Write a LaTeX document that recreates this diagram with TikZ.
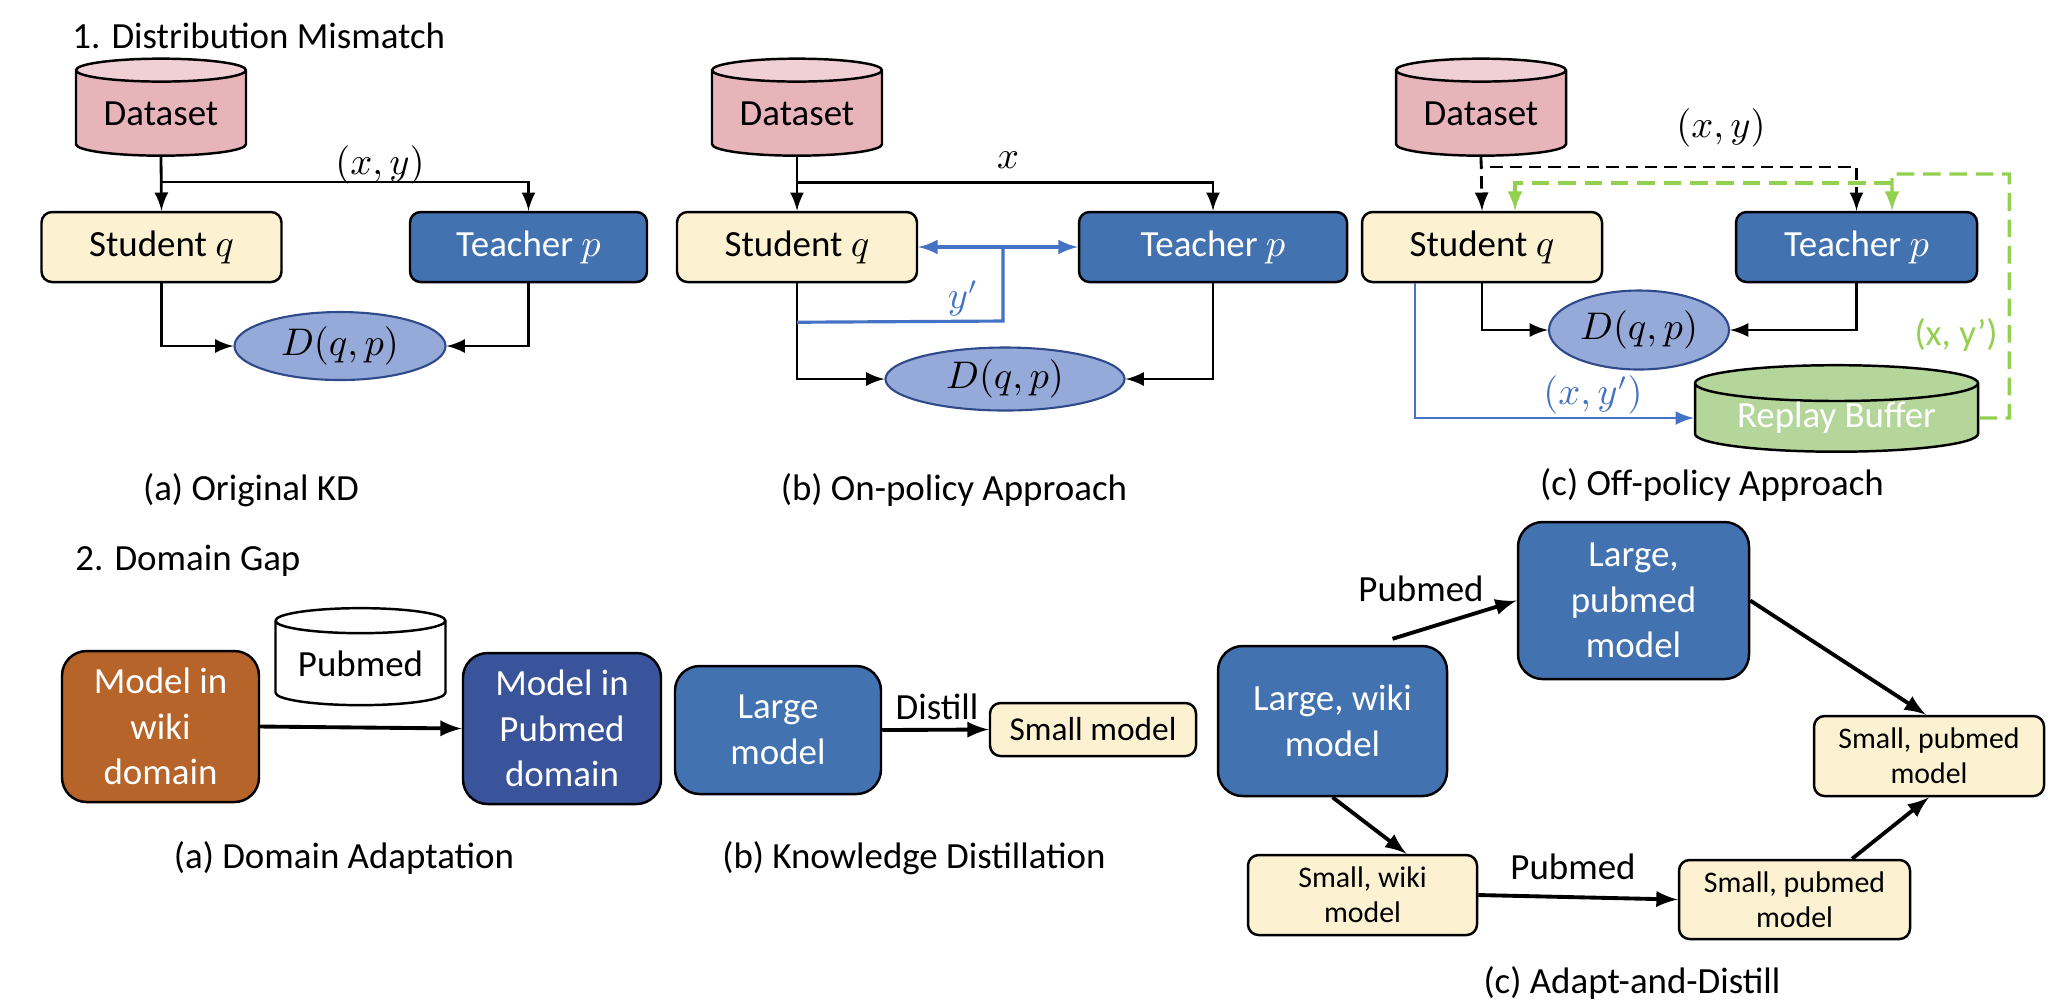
\documentclass[tikz,border=0pt]{standalone}
\usepackage{fontspec}
\setmainfont{Carlito}
\usepackage{amsmath}
\usetikzlibrary{shapes.geometric,calc}

\definecolor{datacol}{HTML}{E6B4B9}
\definecolor{datatop}{HTML}{F0D0D4}
\definecolor{studcol}{HTML}{FCF2D2}
\definecolor{teachcol}{HTML}{4372B0}
\definecolor{klcol}{HTML}{96AAD9}
\definecolor{kledge}{HTML}{2F4A8A}
\definecolor{ycol}{HTML}{4472C4}
\definecolor{gcol}{HTML}{92D050}
\definecolor{bufcol}{HTML}{B5D69A}
\definecolor{wikicol}{HTML}{B7642A}
\definecolor{pubcol}{HTML}{39549B}

\begin{document}
\begin{tikzpicture}[>=latex,font=\fontsize{10.5}{13}\selectfont,
  box/.style={draw,rounded corners=3pt,line width=0.7pt,minimum height=0.70cm,inner sep=2pt},
  stud/.style={box,fill=studcol,minimum width=2.4cm},
  teach/.style={box,fill=teachcol,text=white},
  kl/.style={ellipse,draw=kledge,fill=klcol,line width=0.6pt,inner sep=0pt},
  cyl/.style={cylinder,shape border rotate=90,aspect=0.2,draw,line width=0.7pt,cylinder uses custom fill,
    minimum width=1.70cm,minimum height=0.97cm,inner sep=0pt},
  link/.style={->,line width=0.8pt},
  ylink/.style={line width=0.9pt,draw=ycol},
  gdash/.style={->,dash pattern=on 5pt off 2.5pt,line width=0.9pt,draw=gcol},
  big/.style={draw,rounded corners=7pt,line width=0.7pt,text=white,align=center,inner sep=1pt},
  small/.style={draw,rounded corners=3pt,line width=0.7pt,fill=studcol,align=center,
    font=\fontsize{8.5}{10}\selectfont,inner sep=1pt},
  flow/.style={->,line width=1.1pt}]
\useasboundingbox (0,0) rectangle (20.56,-10.06);

\node[anchor=west] (t1) at (0.60,-0.36) {1. Distribution Mismatch};

% (a)
\node[cyl,cylinder body fill=datacol,cylinder end fill=datatop] (data1) at (1.61,-1.135) {Dataset};
\node[stud] (stud1) at (1.615,-2.47) {Student $q$};
\node[teach,minimum width=2.37cm] (teach1) at (5.285,-2.47) {Teacher $p$};
\node[kl,minimum width=2.11cm,minimum height=0.68cm] (kl1) at (3.40,-3.46) {$D(q,p)$};
\draw[link] (data1.south) -- (stud1.north);
\draw[link] (data1.south) -- ++(0,-0.25) -| (teach1.north);
\node (xy1) at (3.80,-1.65) {$(x,y)$};
\draw[link] (stud1.south) |- (kl1.west);
\draw[link] (teach1.south) |- (kl1.east);
\node (cap1) at (2.51,-4.90) {(a) Original KD};

% (b)
\node[cyl,cylinder body fill=datacol,cylinder end fill=datatop] (data2) at (7.97,-1.135) {Dataset};
\node[stud] (stud2) at (7.97,-2.47) {Student $q$};
\node[teach,minimum width=2.68cm] (teach2) at (12.13,-2.47) {Teacher $p$};
\node[kl,minimum width=2.39cm,minimum height=0.63cm] (kl2) at (10.05,-3.79) {$D(q,p)$};
\draw[link] (data2.south) -- (stud2.north);
\draw[link] (data2.south) -- ++(0,-0.26) -| (teach2.north);
\node (x2) at (10.08,-1.60) {$x$};
\draw[link] (stud2.south) |- (kl2.west);
\draw[link] (teach2.south) |- (kl2.east);
\draw[ylink,<->] (stud2.east) -- (teach2.west);
\coordinate (yj) at (10.03,-2.47);
\draw[ylink] (yj) -- ++(0,-0.74) -- ($(stud2.south)+(0,-0.39)$);
\node[text=ycol] (yp) at (9.63,-2.98) {$y'$};
\node (cap2) at (9.54,-4.90) {(b) On-policy Approach};

% (c)
\node[cyl,cylinder body fill=datacol,cylinder end fill=datatop] (data3) at (14.81,-1.135) {Dataset};
\node[stud] (stud3) at (14.82,-2.47) {Student $q$};
\node[teach,minimum width=2.41cm] (teach3) at (18.565,-2.47) {Teacher $p$};
\node[kl,minimum width=1.80cm,minimum height=0.79cm] (kl3) at (16.39,-3.30) {$D(q,p)$};
\node[cyl,cylinder body fill=bufcol,cylinder end fill=bufcol,minimum width=2.83cm,minimum height=0.78cm,
  aspect=0.18,text=white] (buf) at (18.365,-4.18) {Replay Buffer};
\draw[link,dash pattern=on 3.5pt off 2pt] (data3.south) -- (stud3.north);
\draw[link,dash pattern=on 3.5pt off 2pt] (data3.south) -- ++(0,-0.10) -| (teach3.north);
\node (xy3) at (17.21,-1.28) {$(x,y)$};
\coordinate (gt) at (18.92,-1.74);
\coordinate (gs) at (18.92,-1.83);
\draw[gdash] (buf.east) -- ++(0.30,0) |- (gt) -- ([xshift=3.55mm]teach3.north);
\draw[gdash] (gs) -| ([xshift=3.3mm]stud3.north);
\node[text=gcol] (gl) at (19.56,-3.35) {(x, y’)};
\draw[link] (stud3.south) |- (kl3.west);
\draw[link] (teach3.south) |- (kl3.east);
\draw[link,draw=ycol] ([xshift=-6.7mm]stud3.south) |- (buf.west);
\node[text=ycol] (xyp) at (15.93,-3.95) {$(x,y')$};
\node (cap3) at (17.12,-4.85) {(c) Off-policy Approach};

\node[anchor=west] (t2) at (0.63,-5.61) {2. Domain Gap};

% domain adaptation
\node[big,fill=wikicol,minimum width=1.97cm,minimum height=1.51cm] (wiki) at (1.605,-7.265) {Model in\\wiki\\domain};
\node[cyl,cylinder body fill=white,cylinder end fill=white] (pub) at (3.605,-6.635) {Pubmed};
\node[big,fill=pubcol,minimum width=1.98cm,minimum height=1.51cm] (pubdom) at (5.62,-7.285) {Model in\\Pubmed\\domain};
\draw[flow] (wiki.east) -- (pubdom.west);
\node (cap4) at (3.44,-8.58) {(a) Domain Adaptation};

% distillation
\node[big,fill=teachcol,minimum width=2.06cm,minimum height=1.28cm] (large) at (7.78,-7.30) {Large\\model};
\node[small,minimum width=2.06cm,minimum height=0.53cm,font=\fontsize{9.5}{11}\selectfont] (smallm) at (10.93,-7.295) {Small model};
\draw[flow] (large.east) -- (smallm.west);
\node (dist) at (9.37,-7.07) {Distill};
\node (cap5) at (9.14,-8.58) {(b) Knowledge Distillation};

% adapt and distill
\node[big,fill=teachcol,minimum width=2.29cm,minimum height=1.50cm] (lwiki) at (13.325,-7.21) {Large, wiki\\model};
\node[big,fill=teachcol,minimum width=2.31cm,minimum height=1.57cm] (lpub) at (16.335,-6.005) {Large,\\pubmed\\model};
\node[small,minimum width=2.30cm,minimum height=0.80cm] (spubr) at (19.29,-7.56) {Small, pubmed\\model};
\node[small,minimum width=2.29cm,minimum height=0.80cm] (swiki) at (13.625,-8.95) {Small, wiki\\model};
\node[small,minimum width=2.31cm,minimum height=0.79cm] (spubb) at (17.945,-8.995) {Small, pubmed\\model};
\draw[flow] ([xshift=6mm,yshift=0.6mm]lwiki.north) -- (lpub.west);
\draw[flow] (lpub.east) -- ([xshift=-0.3mm]spubr.north);
\draw[flow] (lwiki.south) -- ([xshift=4.4mm]swiki.north);
\draw[flow] (swiki.east) -- (spubb.west);
\draw[flow] ([xshift=5.75mm]spubb.north) -- (spubr.south);
\node (pm1) at (14.21,-5.89) {Pubmed};
\node (pm2) at (15.73,-8.67) {Pubmed};
\node (cap6) at (16.32,-9.83) {(c) Adapt-and-Distill};
\end{tikzpicture}
\end{document}
